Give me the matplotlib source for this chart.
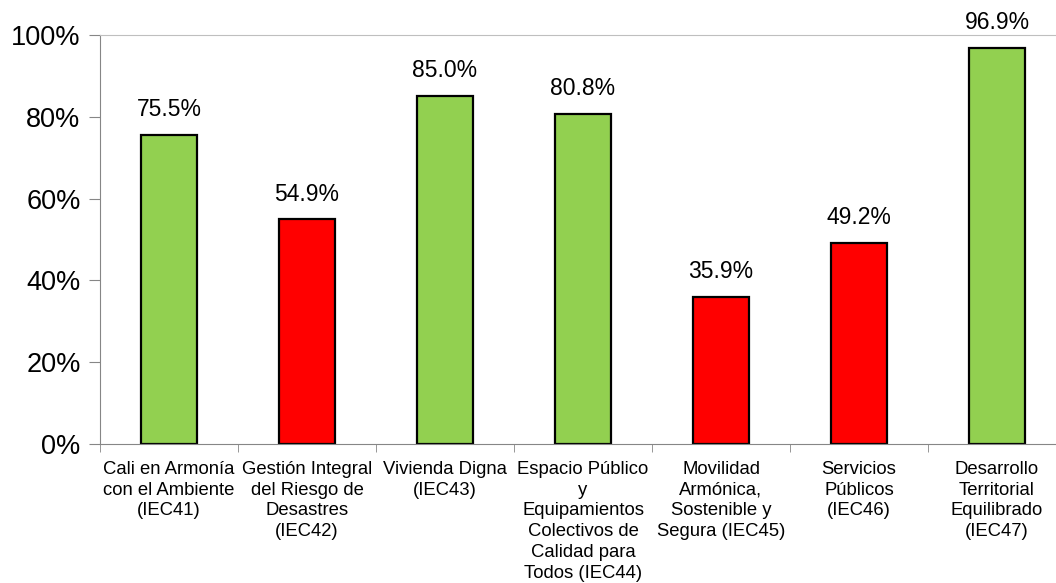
import numpy as np
import matplotlib.pyplot as plt

plt.rcParams['font.family'] = ['Liberation Sans', 'DejaVu Sans']

categories = [
    "Cali en Armonía\ncon el Ambiente\n(IEC41)",
    "Gestión Integral\ndel Riesgo de\nDesastres\n(IEC42)",
    "Vivienda Digna\n(IEC43)",
    "Espacio Público\ny\nEquipamientos\nColectivos de\nCalidad para\nTodos (IEC44)",
    "Movilidad\nArmónica,\nSostenible y\nSegura (IEC45)",
    "Servicios\nPúblicos\n(IEC46)",
    "Desarrollo\nTerritorial\nEquilibrado\n(IEC47)",
]
values = [75.5, 54.9, 85.0, 80.8, 35.9, 49.2, 96.9]
status = ["ok", "low", "ok", "ok", "low", "low", "ok"]
yticks = [0, 20, 40, 60, 80, 100]

colors = {"ok": "#92D050", "low": "#FF0000"}
bar_colors = [colors[s] for s in status]

fig = plt.figure(figsize=(10.56, 5.83), dpi=100)
ax = fig.add_axes([100 / 1056, 139 / 583, 966 / 1056, 409 / 583])

x = np.arange(len(categories))
ax.bar(x, values, width=0.41, color=bar_colors, edgecolor="black", linewidth=1.6)

for xi, v in zip(x, values):
    ax.annotate(f"{v:.1f}%", (xi, v), xytext=(0, 10), textcoords="offset points",
                ha="center", va="bottom", fontsize=16.5)

ax.set_xlim(-0.5, len(categories) - 0.5)
ax.set_ylim(0, 100)
ax.set_yticks(yticks)
ax.set_yticklabels([f"{t}%" for t in yticks], fontsize=19.5)

ax.set_xticks(x)
ax.set_xticklabels(categories, fontsize=13.3, linespacing=1.3, va="top")
ax.set_xticks(np.arange(len(categories) + 1) - 0.5, minor=True)
ax.tick_params(axis="x", which="major", length=0, pad=12)
ax.tick_params(axis="x", which="minor", length=6, color="#868686", direction="out")
ax.tick_params(axis="y", length=8, color="#868686", direction="out", pad=6)

for side in ["left", "bottom", "top"]:
    ax.spines[side].set_color("#868686")
ax.spines["top"].set_color("#BFBFBF")
ax.spines["right"].set_visible(False)

fig.savefig("out.png", dpi=100)
